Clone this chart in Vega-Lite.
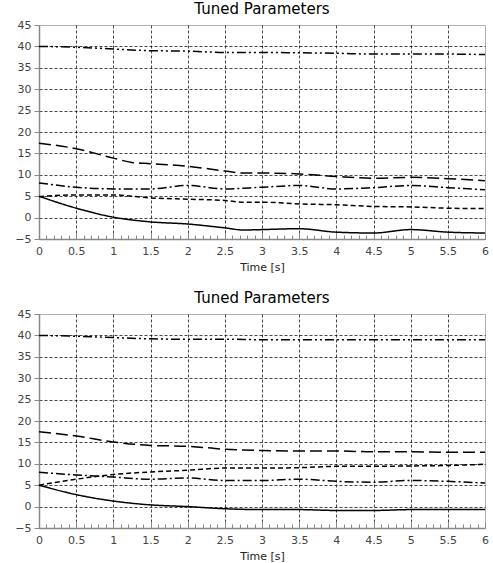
{
  "$schema": "https://vega.github.io/schema/vega-lite/v6.json",
  "padding": {"left": 14, "top": 1, "right": 6, "bottom": 0},
  "spacing": 17,
  "config": {
    "font": "DejaVu Sans",
    "view": {"stroke": "#b0b0b0", "strokeWidth": 1},
    "title": {"font": "DejaVu Sans", "fontSize": 15, "fontWeight": "normal", "color": "#000", "offset": 2},
    "axis": {"labelFont": "DejaVu Sans", "labelFontSize": 11, "labelColor": "#444", "titleFont": "DejaVu Sans", "titleFontSize": 11, "titleFontWeight": "normal", "titleColor": "#222", "domainColor": "#888", "domainWidth": 1.5, "tickColor": "#888", "gridColor": "#000", "gridDash": [3, 2], "gridWidth": 1, "gridOpacity": 0.85}
  },
  "data": {"values": [
    {"p": 1, "s": "A", "t": 0, "v": 40.0}, {"p": 1, "s": "A", "t": 0.5, "v": 39.8}, {"p": 1, "s": "A", "t": 1, "v": 39.4}, {"p": 1, "s": "A", "t": 1.5, "v": 39.0}, {"p": 1, "s": "A", "t": 2, "v": 38.9}, {"p": 1, "s": "A", "t": 2.5, "v": 38.6}, {"p": 1, "s": "A", "t": 3, "v": 38.6}, {"p": 1, "s": "A", "t": 3.5, "v": 38.5}, {"p": 1, "s": "A", "t": 4, "v": 38.4}, {"p": 1, "s": "A", "t": 4.5, "v": 38.2}, {"p": 1, "s": "A", "t": 5, "v": 38.2}, {"p": 1, "s": "A", "t": 5.5, "v": 38.2}, {"p": 1, "s": "A", "t": 6, "v": 38.1},
    {"p": 1, "s": "B", "t": 0, "v": 17.4}, {"p": 1, "s": "B", "t": 0.5, "v": 16.1}, {"p": 1, "s": "B", "t": 1, "v": 13.9}, {"p": 1, "s": "B", "t": 1.25, "v": 12.9}, {"p": 1, "s": "B", "t": 1.5, "v": 12.6}, {"p": 1, "s": "B", "t": 2, "v": 12.0}, {"p": 1, "s": "B", "t": 2.5, "v": 10.9}, {"p": 1, "s": "B", "t": 2.75, "v": 10.4}, {"p": 1, "s": "B", "t": 3, "v": 10.4}, {"p": 1, "s": "B", "t": 3.5, "v": 10.2}, {"p": 1, "s": "B", "t": 4, "v": 9.6}, {"p": 1, "s": "B", "t": 4.5, "v": 9.2}, {"p": 1, "s": "B", "t": 5, "v": 9.4}, {"p": 1, "s": "B", "t": 5.5, "v": 9.1}, {"p": 1, "s": "B", "t": 6, "v": 8.6},
    {"p": 1, "s": "C", "t": 0, "v": 8.1}, {"p": 1, "s": "C", "t": 0.5, "v": 7.1}, {"p": 1, "s": "C", "t": 1, "v": 6.7}, {"p": 1, "s": "C", "t": 1.5, "v": 6.7}, {"p": 1, "s": "C", "t": 2, "v": 7.5}, {"p": 1, "s": "C", "t": 2.5, "v": 6.7}, {"p": 1, "s": "C", "t": 3, "v": 7.1}, {"p": 1, "s": "C", "t": 3.5, "v": 7.5}, {"p": 1, "s": "C", "t": 4, "v": 6.7}, {"p": 1, "s": "C", "t": 4.5, "v": 7.0}, {"p": 1, "s": "C", "t": 5, "v": 7.5}, {"p": 1, "s": "C", "t": 5.5, "v": 7.0}, {"p": 1, "s": "C", "t": 6, "v": 6.5},
    {"p": 1, "s": "D", "t": 0, "v": 4.9}, {"p": 1, "s": "D", "t": 0.5, "v": 5.3}, {"p": 1, "s": "D", "t": 1, "v": 5.3}, {"p": 1, "s": "D", "t": 1.5, "v": 4.6}, {"p": 1, "s": "D", "t": 2, "v": 4.3}, {"p": 1, "s": "D", "t": 2.5, "v": 4.0}, {"p": 1, "s": "D", "t": 2.75, "v": 3.6}, {"p": 1, "s": "D", "t": 3, "v": 3.6}, {"p": 1, "s": "D", "t": 3.5, "v": 3.2}, {"p": 1, "s": "D", "t": 4, "v": 3.0}, {"p": 1, "s": "D", "t": 4.5, "v": 2.6}, {"p": 1, "s": "D", "t": 5, "v": 2.5}, {"p": 1, "s": "D", "t": 5.5, "v": 2.2}, {"p": 1, "s": "D", "t": 6, "v": 2.1},
    {"p": 1, "s": "E", "t": 0, "v": 5.0}, {"p": 1, "s": "E", "t": 0.5, "v": 2.2}, {"p": 1, "s": "E", "t": 1, "v": 0.1}, {"p": 1, "s": "E", "t": 1.5, "v": -1.0}, {"p": 1, "s": "E", "t": 2, "v": -1.5}, {"p": 1, "s": "E", "t": 2.5, "v": -2.4}, {"p": 1, "s": "E", "t": 2.75, "v": -2.9}, {"p": 1, "s": "E", "t": 3, "v": -2.8}, {"p": 1, "s": "E", "t": 3.5, "v": -2.6}, {"p": 1, "s": "E", "t": 4, "v": -3.4}, {"p": 1, "s": "E", "t": 4.5, "v": -3.6}, {"p": 1, "s": "E", "t": 5, "v": -2.8}, {"p": 1, "s": "E", "t": 5.5, "v": -3.4}, {"p": 1, "s": "E", "t": 6, "v": -3.6},
    {"p": 2, "s": "A", "t": 0, "v": 40.0}, {"p": 2, "s": "A", "t": 0.5, "v": 39.8}, {"p": 2, "s": "A", "t": 1, "v": 39.5}, {"p": 2, "s": "A", "t": 1.5, "v": 39.2}, {"p": 2, "s": "A", "t": 2, "v": 39.1}, {"p": 2, "s": "A", "t": 2.5, "v": 39.1}, {"p": 2, "s": "A", "t": 3, "v": 39.0}, {"p": 2, "s": "A", "t": 3.5, "v": 39.0}, {"p": 2, "s": "A", "t": 4, "v": 39.0}, {"p": 2, "s": "A", "t": 4.5, "v": 39.0}, {"p": 2, "s": "A", "t": 5, "v": 39.0}, {"p": 2, "s": "A", "t": 5.5, "v": 39.0}, {"p": 2, "s": "A", "t": 6, "v": 39.0},
    {"p": 2, "s": "B", "t": 0, "v": 17.5}, {"p": 2, "s": "B", "t": 0.5, "v": 16.5}, {"p": 2, "s": "B", "t": 1, "v": 15.1}, {"p": 2, "s": "B", "t": 1.5, "v": 14.3}, {"p": 2, "s": "B", "t": 2, "v": 14.1}, {"p": 2, "s": "B", "t": 2.5, "v": 13.4}, {"p": 2, "s": "B", "t": 3, "v": 13.1}, {"p": 2, "s": "B", "t": 3.5, "v": 13.0}, {"p": 2, "s": "B", "t": 4, "v": 13.0}, {"p": 2, "s": "B", "t": 4.5, "v": 12.8}, {"p": 2, "s": "B", "t": 5, "v": 12.8}, {"p": 2, "s": "B", "t": 5.5, "v": 12.7}, {"p": 2, "s": "B", "t": 6, "v": 12.7},
    {"p": 2, "s": "C", "t": 0, "v": 8.0}, {"p": 2, "s": "C", "t": 0.5, "v": 7.4}, {"p": 2, "s": "C", "t": 1, "v": 6.9}, {"p": 2, "s": "C", "t": 1.5, "v": 6.4}, {"p": 2, "s": "C", "t": 2, "v": 6.7}, {"p": 2, "s": "C", "t": 2.5, "v": 6.1}, {"p": 2, "s": "C", "t": 3, "v": 6.1}, {"p": 2, "s": "C", "t": 3.5, "v": 6.4}, {"p": 2, "s": "C", "t": 4, "v": 5.9}, {"p": 2, "s": "C", "t": 4.5, "v": 5.7}, {"p": 2, "s": "C", "t": 5, "v": 6.1}, {"p": 2, "s": "C", "t": 5.5, "v": 5.9}, {"p": 2, "s": "C", "t": 6, "v": 5.5},
    {"p": 2, "s": "D", "t": 0, "v": 5.0}, {"p": 2, "s": "D", "t": 0.5, "v": 6.4}, {"p": 2, "s": "D", "t": 1, "v": 7.5}, {"p": 2, "s": "D", "t": 1.5, "v": 8.1}, {"p": 2, "s": "D", "t": 2, "v": 8.5}, {"p": 2, "s": "D", "t": 2.5, "v": 9.0}, {"p": 2, "s": "D", "t": 3, "v": 9.0}, {"p": 2, "s": "D", "t": 3.5, "v": 9.1}, {"p": 2, "s": "D", "t": 4, "v": 9.4}, {"p": 2, "s": "D", "t": 4.5, "v": 9.4}, {"p": 2, "s": "D", "t": 5, "v": 9.5}, {"p": 2, "s": "D", "t": 5.5, "v": 9.6}, {"p": 2, "s": "D", "t": 6, "v": 9.9},
    {"p": 2, "s": "E", "t": 0, "v": 5.0}, {"p": 2, "s": "E", "t": 0.5, "v": 2.8}, {"p": 2, "s": "E", "t": 1, "v": 1.3}, {"p": 2, "s": "E", "t": 1.5, "v": 0.4}, {"p": 2, "s": "E", "t": 2, "v": 0.0}, {"p": 2, "s": "E", "t": 2.5, "v": -0.5}, {"p": 2, "s": "E", "t": 3, "v": -0.7}, {"p": 2, "s": "E", "t": 3.5, "v": -0.7}, {"p": 2, "s": "E", "t": 4, "v": -0.9}, {"p": 2, "s": "E", "t": 4.5, "v": -0.9}, {"p": 2, "s": "E", "t": 5, "v": -0.7}, {"p": 2, "s": "E", "t": 5.5, "v": -0.7}, {"p": 2, "s": "E", "t": 6, "v": -0.7}
  ]},
  "vconcat": [
    {
      "title": "Tuned Parameters",
      "width": 446, "height": 214,
      "transform": [{"filter": "datum.p == 1"}],
      "mark": {"type": "line", "color": "#000", "strokeWidth": 1.5, "interpolate": "monotone"},
      "encoding": {
        "x": {"field": "t", "type": "quantitative", "title": "Time [s]", "scale": {"domain": [0, 6], "nice": false},
          "axis": {"values": [0,0.1,0.2,0.3,0.4,0.5,0.6,0.7,0.8,0.9,1,1.1,1.2,1.3,1.4,1.5,1.6,1.7,1.8,1.9,2,2.1,2.2,2.3,2.4,2.5,2.6,2.7,2.8,2.9,3,3.1,3.2,3.3,3.4,3.5,3.6,3.7,3.8,3.9,4,4.1,4.2,4.3,4.4,4.5,4.6,4.7,4.8,4.9,5,5.1,5.2,5.3,5.4,5.5,5.6,5.7,5.8,5.9,6],
            "format": "~g",
            "labelExpr": "abs(datum.value*2 - round(datum.value*2)) < 0.001 ? datum.label : ''",
            "labelFlush": false, "labelOverlap": false, "labelPadding": 12, "titlePadding": 3,
            "tickSize": {"condition": {"test": "abs(datum.value*2 - round(datum.value*2)) < 0.001", "value": -6}, "value": -4},
            "gridOpacity": {"condition": {"test": "abs(datum.value*2 - round(datum.value*2)) < 0.001 && datum.value > 0.01 && datum.value < 5.99", "value": 0.85}, "value": 0}}},
        "y": {"field": "v", "type": "quantitative", "title": null, "scale": {"domain": [-5, 45], "nice": false},
          "axis": {"values": [-5,0,5,10,15,20,25,30,35,40,45], "tickSize": 5, "labelPadding": 3, "gridOpacity": {"condition": {"test": "datum.value > -4 && datum.value < 44", "value": 0.85}, "value": 0}}},
        "strokeDash": {"field": "s", "type": "nominal", "legend": null,
          "scale": {"domain": ["A", "B", "C", "D", "E"], "range": [[9, 3, 2, 3, 2, 3], [12, 5], [9, 3, 2, 3], [5, 3], [1, 0]]}}
      }
    },
    {
      "title": "Tuned Parameters",
      "width": 446, "height": 214,
      "transform": [{"filter": "datum.p == 2"}],
      "mark": {"type": "line", "color": "#000", "strokeWidth": 1.5, "interpolate": "monotone"},
      "encoding": {
        "x": {"field": "t", "type": "quantitative", "title": "Time [s]", "scale": {"domain": [0, 6], "nice": false},
          "axis": {"values": [0,0.1,0.2,0.3,0.4,0.5,0.6,0.7,0.8,0.9,1,1.1,1.2,1.3,1.4,1.5,1.6,1.7,1.8,1.9,2,2.1,2.2,2.3,2.4,2.5,2.6,2.7,2.8,2.9,3,3.1,3.2,3.3,3.4,3.5,3.6,3.7,3.8,3.9,4,4.1,4.2,4.3,4.4,4.5,4.6,4.7,4.8,4.9,5,5.1,5.2,5.3,5.4,5.5,5.6,5.7,5.8,5.9,6],
            "format": "~g",
            "labelExpr": "abs(datum.value*2 - round(datum.value*2)) < 0.001 ? datum.label : ''",
            "labelFlush": false, "labelOverlap": false, "labelPadding": 12, "titlePadding": 3,
            "tickSize": {"condition": {"test": "abs(datum.value*2 - round(datum.value*2)) < 0.001", "value": -6}, "value": -4},
            "gridOpacity": {"condition": {"test": "abs(datum.value*2 - round(datum.value*2)) < 0.001 && datum.value > 0.01 && datum.value < 5.99", "value": 0.85}, "value": 0}}},
        "y": {"field": "v", "type": "quantitative", "title": null, "scale": {"domain": [-5, 45], "nice": false},
          "axis": {"values": [-5,0,5,10,15,20,25,30,35,40,45], "tickSize": 5, "labelPadding": 3, "gridOpacity": {"condition": {"test": "datum.value > -4 && datum.value < 44", "value": 0.85}, "value": 0}}},
        "strokeDash": {"field": "s", "type": "nominal", "legend": null,
          "scale": {"domain": ["A", "B", "C", "D", "E"], "range": [[9, 3, 2, 3, 2, 3], [12, 5], [9, 3, 2, 3], [5, 3], [1, 0]]}}
      }
    }
  ]
}
